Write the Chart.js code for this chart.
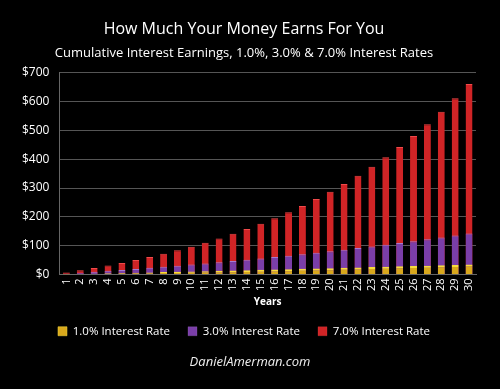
<!DOCTYPE html>
<html>
<head>
<meta charset="utf-8">
<script src="https://cdn.jsdelivr.net/npm/chart.js@4"></script>
<style>
  html, body { margin: 0; padding: 0; background: #000; }
  #wrap { position: relative; width: 500px; height: 389px; }
  #site {
    position: absolute; left: 0; width: 500px; top: 352px;
    text-align: center; color: #eee; font: italic 13px "Open Sans", sans-serif;
  }
</style>
</head>
<body>
<div id="wrap">
  <canvas id="chart" width="500" height="389"></canvas>
  <div id="site">DanielAmerman.com</div>
</div>
<script>
const years = ['1','2','3','4','5','6','7','8','9','10','11','12','13','14','15',
               '16','17','18','19','20','21','22','23','24','25','26','27','28','29','30'];

// cumulative interest on $100
const rate1 = [1.0, 2.0, 3.0, 4.1, 5.1, 6.2, 7.2, 8.3, 9.4, 10.5, 11.6, 12.7, 13.8, 15.0, 16.1,
               17.3, 18.4, 19.6, 20.8, 22.0, 23.2, 24.5, 25.7, 27.0, 28.2, 29.5, 30.8, 32.1, 33.4, 34.8];
const rate3 = [3.0, 6.1, 9.3, 12.6, 15.9, 19.4, 23.0, 26.7, 30.5, 34.4, 38.4, 42.6, 46.9, 51.3, 55.8,
               60.5, 65.3, 70.2, 75.4, 80.6, 86.0, 91.6, 97.4, 103.3, 109.4, 115.7, 122.1, 128.8, 135.7, 142.7];
const rate7 = [7.0, 14.5, 22.5, 31.1, 40.3, 50.1, 60.6, 71.8, 83.8, 96.7, 110.5, 125.2, 141.0, 157.8, 175.9,
               195.2, 215.9, 238.0, 261.7, 287.0, 314.1, 343.0, 374.1, 407.2, 442.7, 480.7, 521.4, 564.9, 611.4, 661.2];

const yTicks = [0, 100, 200, 300, 400, 500, 600, 700];

const font = '"Open Sans", sans-serif';

// year labels written vertically (bottom to top) under each bar
const verticalLabels = {
  id: 'verticalLabels',
  afterDraw(chart) {
    const x = chart.scales.x;
    const ctx = chart.ctx;
    ctx.save();
    ctx.fillStyle = '#fff';
    ctx.font = '11px ' + font;
    ctx.textAlign = 'right';
    ctx.textBaseline = 'middle';
    years.forEach((lab, i) => {
      ctx.save();
      ctx.translate(x.getPixelForValue(i), x.top + 4);
      ctx.rotate(-Math.PI / 2);
      ctx.fillText(lab, 0, 0);
      ctx.restore();
    });
    ctx.restore();
  }
};

new Chart(document.getElementById('chart'), {
  type: 'bar',
  data: {
    labels: years,
    datasets: [
      { label: '1.0% Interest Rate', data: rate1, backgroundColor: '#d9a81c', borderColor: '#f8dc3c', borderWidth: { top: 2 }, order: 1 },
      { label: '3.0% Interest Rate', data: rate3, backgroundColor: '#7a3ea8', borderColor: '#a77bd0', borderWidth: { top: 1 }, order: 2 },
      { label: '7.0% Interest Rate', data: rate7, backgroundColor: '#d02426', borderColor: '#f04a4a', borderWidth: { top: 1 }, order: 3 }
    ]
  },
  plugins: [verticalLabels],
  options: {
    responsive: false,
    animation: false,
    layout: { padding: { left: 12, right: 24, top: 6, bottom: 42 } },
    datasets: { bar: { categoryPercentage: 1, barPercentage: 0.5, grouped: false } },
    plugins: {
      title: {
        display: true,
        text: 'How Much Your Money Earns For You',
        color: '#fff',
        font: { family: font, size: 16, weight: 'normal' },
        padding: { top: 14, bottom: 6 }
      },
      subtitle: {
        display: true,
        text: 'Cumulative Interest Earnings, 1.0%, 3.0% & 7.0% Interest Rates',
        color: '#fff',
        font: { family: font, size: 13 },
        padding: { bottom: 12 }
      },
      legend: {
        position: 'bottom',
        labels: {
          color: '#fff',
          font: { family: font, size: 11.5 },
          boxWidth: 9,
          boxHeight: 9,
          padding: 18
        }
      },
      tooltip: { enabled: false }
    },
    scales: {
      x: {
        stacked: true,
        grid: { display: false },
        border: { color: '#666', width: 1 },
        afterFit: axis => { axis.height = 33; },
        ticks: { display: false },
        title: { display: true, text: 'Years', color: '#fff', font: { family: font, size: 10, weight: 'bold' }, padding: { top: 0, bottom: -1 } }
      },
      y: {
        stacked: false,
        min: 0,
        max: 700,
        afterBuildTicks: axis => { axis.ticks = yTicks.map(v => ({ value: v })); },
        grid: { color: '#555', lineWidth: 1, drawTicks: false },
        border: { color: '#666', width: 1 },
        ticks: { color: '#fff', font: { family: font, size: 12 }, padding: 10, callback: v => '$' + v }
      }
    }
  }
});
</script>
</body>
</html>
